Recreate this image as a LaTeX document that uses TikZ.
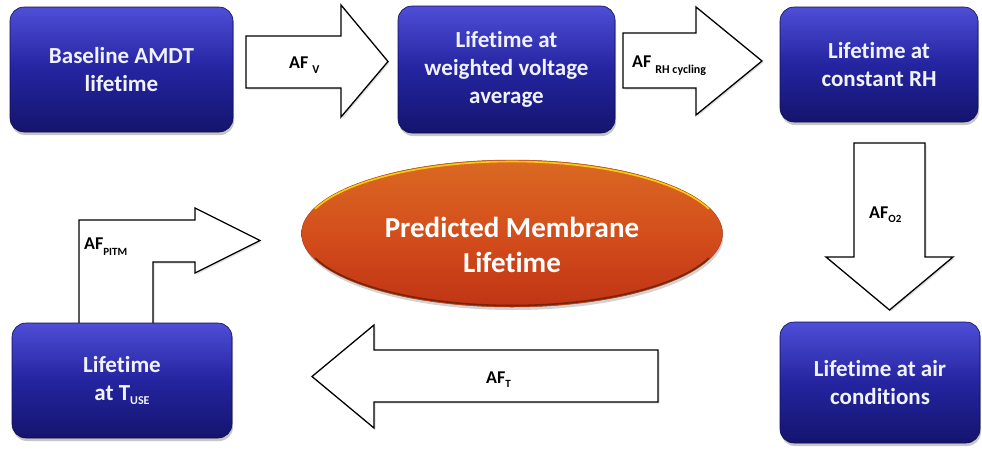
\documentclass[tikz,border=0pt]{standalone}
\usepackage{fontspec}
\setmainfont[Ligatures={NoCommon}]{Carlito}
\usetikzlibrary{shapes.geometric,shadows,calc}
\definecolor{boxtop}{RGB}{78,78,215}
\definecolor{boxmid}{RGB}{36,36,160}
\definecolor{boxbot}{RGB}{20,20,110}
\definecolor{ovtop}{RGB}{218,105,35}
\definecolor{ovmid}{RGB}{212,78,28}
\definecolor{ovbot}{RGB}{192,52,20}
\definecolor{ovrim}{RGB}{105,35,10}
\definecolor{boxtext}{RGB}{240,242,255}
\newcommand\lowsub[3]{\raisebox{-#1}{\fontsize{#2}{#2}\selectfont #3}}
\begin{document}
\begin{tikzpicture}[x=1pt,y=-1pt,
  stagebox/.style={rounded corners=14pt, top color=boxtop, bottom color=boxbot, middle color=boxmid,
    draw=boxbot!70!black, line width=0.6pt, text=boxtext,
    font=\bfseries\fontsize{23}{28}\selectfont, align=center, inner sep=0pt,
    drop shadow={shadow xshift=1pt, shadow yshift=-3pt, opacity=0.45}},
  blockarrow/.style={draw=black, fill=white, line width=1.3pt, line join=miter,
    drop shadow={shadow xshift=1.5pt, shadow yshift=-1.5pt, opacity=0.25}},
  aflabel/.style={font=\bfseries\fontsize{18}{18}\selectfont, inner sep=0pt, anchor=base west}]
\useasboundingbox (0,0) rectangle (982,451);

% bent arrow drawn first (box covers its foot)
\draw[blockarrow] (79,325) -- (79,220) -- (195,220) -- (195,208) -- (260,240.5) -- (195,273) -- (195,262) -- (153,262) -- (153,325);

% stage boxes
\node[stagebox, minimum width=223pt, minimum height=125pt] (b1) at (121.5,69.5) {Baseline AMDT\\lifetime};
\node[stagebox, minimum width=217pt, minimum height=127pt] (b2) at (506.5,69.5) {Lifetime at\\weighted voltage\\average};
\node[stagebox, minimum width=198pt, minimum height=115pt] (b3) at (879,64.5) {Lifetime at\\constant RH};
\node[stagebox, minimum width=200pt, minimum height=121pt] (b4) at (880,382.5) {Lifetime at air\\conditions};
\node[stagebox, minimum width=220pt, minimum height=115pt] (b5) at (122,380.5) {Lifetime\\at T\lowsub{4pt}{12}{USE}};

% centre ellipse
\node[ellipse, minimum width=421pt, minimum height=147pt, inner sep=0pt,
  top color=ovtop, bottom color=ovbot, middle color=ovmid, draw=ovmid!80!black, line width=0.5pt,
  drop shadow={shadow xshift=1pt, shadow yshift=-3pt, opacity=0.35}] (ov) at (512,233.5) {};
\draw[yellow!85!orange, line width=1.6pt, opacity=0.85]
  ($(ov.center)+(-196.9,-24.6)$) arc[start angle=160, end angle=20, x radius=209.5pt, y radius=72pt];
\draw[ovrim, line width=1.6pt, opacity=0.85]
  ($(ov.center)+(-196.9,24.6)$) arc[start angle=200, end angle=340, x radius=209.5pt, y radius=72pt];
\node[text=white, font=\bfseries\fontsize{29}{35}\selectfont, align=center, inner sep=0pt] (ovt) at (512,244.5) {Predicted Membrane\\Lifetime};

% straight block arrows
\draw[blockarrow] (246,36) -- (341,36) -- (341,5) -- (388,61.5) -- (341,117) -- (341,88) -- (246,88) -- cycle;
\draw[blockarrow] (623,33) -- (696,33) -- (696,7) -- (762,61) -- (696,115) -- (696,88) -- (623,88) -- cycle;
\draw[blockarrow] (854,143) -- (925,143) -- (925,257) -- (953,257) -- (889.5,310) -- (826,257) -- (854,257) -- cycle;
\draw[blockarrow] (658,350) -- (374,350) -- (374,325) -- (312,376.5) -- (374,428) -- (374,402) -- (658,402) -- cycle;

% arrow labels
\node[aflabel] (lv) at (289,68) {AF \lowsub{5pt}{12}{V}};
\node[aflabel] (lrh) at (632,67) {AF \lowsub{6pt}{12}{RH cycling}};
\node[aflabel] (lo) at (869,218) {AF\lowsub{4pt}{11}{O2}};
\node[aflabel] (lt) at (486,383) {AF\lowsub{4pt}{11}{T}};
\node[aflabel] (lp) at (84,249) {AF\lowsub{6pt}{11}{PITM}};
\end{tikzpicture}
\end{document}
